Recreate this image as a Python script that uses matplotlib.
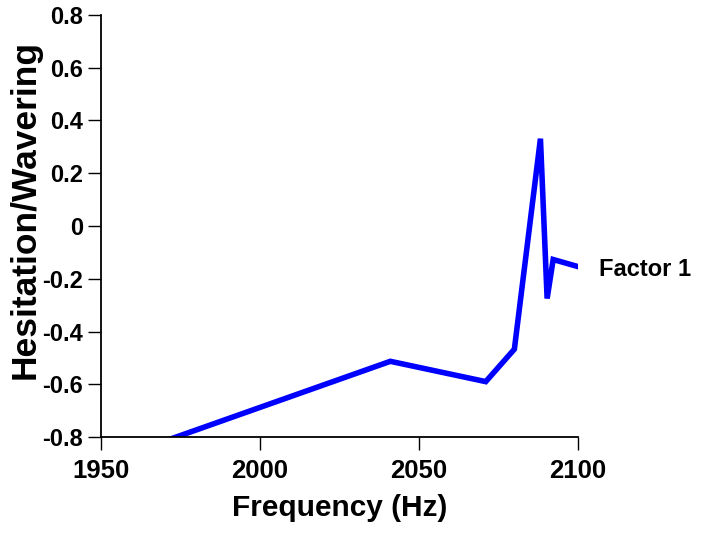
import matplotlib
matplotlib.use("Agg")
import matplotlib.pyplot as plt

# values
freq = [1972.5, 2041, 2071, 2080, 2088.2, 2090.3, 2092.2, 2100.3]
factor1 = [-0.805, -0.513, -0.59, -0.467, 0.331, -0.275, -0.127, -0.155]

xticks = [1950, 2000, 2050, 2100]
yticks = [0.8, 0.6, 0.4, 0.2, 0, -0.2, -0.4, -0.6, -0.8]
ytick_labels = ["0.8", "0.6", "0.4", "0.2", "0", "-0.2", "-0.4", "-0.6", "-0.8"]

plt.rcParams['font.family'] = ['Liberation Sans', 'DejaVu Sans']
plt.rcParams['font.weight'] = 'bold'

fig = plt.figure(figsize=(7.01, 5.34), dpi=100)
ax = fig.add_axes([0.144, 0.1816, 0.6805, 0.7904])

ax.plot(freq, factor1, color='#0000ff', lw=4.0, solid_joinstyle='miter')
ax.text(freq[-1] + 6.3, factor1[-1] - 0.01, "Factor 1", fontsize=17, fontweight='bold',
        va='center', ha='left')

ax.set_xlim(1950, 2100)
ax.set_ylim(-0.8, 0.8)
ax.set_xticks(xticks)
ax.set_yticks(yticks)
ax.set_yticklabels(ytick_labels)
ax.tick_params(axis='x', labelsize=18.5, length=9, width=1.0, direction='out', pad=7)
ax.tick_params(axis='y', labelsize=17, length=9.5, width=1.0, direction='out', pad=3.5)
for lab in ax.get_xticklabels() + ax.get_yticklabels():
    lab.set_fontweight('bold')

ax.spines['top'].set_visible(False)
ax.spines['right'].set_visible(False)
ax.spines['left'].set_linewidth(1.3)
ax.spines['bottom'].set_linewidth(1.3)

ax.set_xlabel("Frequency (Hz)", fontsize=21.5, fontweight='bold', labelpad=8)
ax.set_ylabel("Hesitation/Wavering", fontsize=25.5, fontweight='bold')
ax.yaxis.set_label_coords(-0.125, 0.54)

fig.savefig("out.png", dpi=100)
